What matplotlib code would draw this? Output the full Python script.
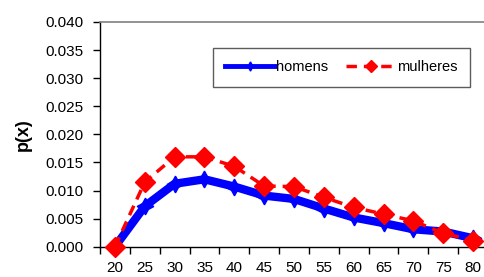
import numpy as np
import matplotlib
matplotlib.use("Agg")
import matplotlib.pyplot as plt

plt.rcParams['font.family'] = ['Liberation Sans', 'DejaVu Sans']

idades = ["20", "25", "30", "35", "40", "45", "50", "55", "60", "65", "70", "75", "80"]
homens = [0.0, 0.0072, 0.0112, 0.0120, 0.0107, 0.0091, 0.0085, 0.0068, 0.0052, 0.0042, 0.0031, 0.0027, 0.0015]
mulheres = [0.0, 0.0115, 0.0160, 0.0160, 0.0143, 0.0108, 0.0107, 0.0088, 0.0070, 0.0058, 0.0046, 0.0024, 0.0011]

x = np.arange(len(idades))

fig = plt.figure(figsize=(4.85, 2.77), dpi=100)
ax = fig.add_axes([100/485, 30.3/277, 388/485, 224.7/277])

ax.plot(x, homens, color='#0000ff', lw=6, marker=(4, 1, 0), ms=12,
        mec='#0000ff', mfc='#0000ff', label='homens', zorder=3)
ax.plot(x, mulheres, color='#ff0000', lw=2.5, ls=(0, (3, 2)), marker='D', ms=10.5,
        mec='#ff0000', mfc='#ff0000', label='mulheres', zorder=4, clip_on=False)

ax.set_xlim(-0.5, 12.5)
ax.set_ylim(0, 0.040)
ax.set_yticks(np.arange(0, 0.0401, 0.005))
ax.set_yticklabels(["%.3f" % v for v in np.arange(0, 0.0401, 0.005)], fontsize=11)
ax.set_xticks(x)
ax.set_xticklabels(idades, fontsize=11)
ax.set_xticks(np.arange(-0.5, 12.6, 1), minor=True)
ax.tick_params(axis='x', which='major', length=0, pad=10)
ax.tick_params(axis='x', which='minor', length=5, direction='out', width=1)
ax.tick_params(axis='y', length=5, direction='out', width=1, pad=7)

ax.spines['right'].set_visible(False)
ax.spines['top'].set_color('#808080')
ax.spines['top'].set_linewidth(1.2)
ax.spines['left'].set_linewidth(1)
ax.spines['bottom'].set_linewidth(1)

ax.set_ylabel("p(x)", fontsize=13, fontweight='bold', labelpad=10)

leg = ax.legend(loc='upper left', bbox_to_anchor=(113/388, (246.7-48)/224.7), ncol=2,
                fontsize=10.5, frameon=True, fancybox=False, edgecolor='#333333',
                handlelength=3.4, handletextpad=0.1, columnspacing=1.2,
                borderpad=0.85, borderaxespad=0, markerscale=0.55)
leg.get_frame().set_linewidth(1.0)
leg.get_lines()[0].set_linewidth(3.5)

fig.savefig("out.png", dpi=100)
